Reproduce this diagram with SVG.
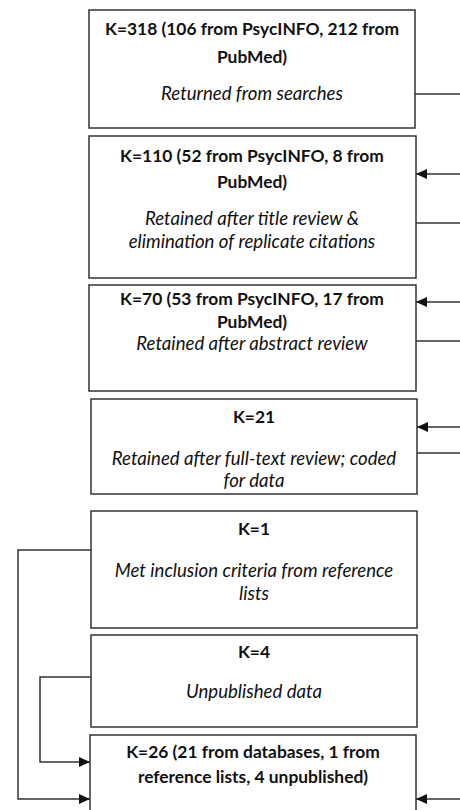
<svg xmlns="http://www.w3.org/2000/svg" width="460" height="810" viewBox="0 0 460 810">
<style>
.box{fill:#fff;stroke:#333;stroke-width:1.5}
.b{font-family:Lato,"Open Sans","Liberation Sans",sans-serif;font-weight:bold;font-size:17.4px;fill:#111;text-anchor:middle}
.i{font-family:Lato,"Open Sans","Liberation Sans",sans-serif;font-style:italic;font-size:18.6px;fill:#111;text-anchor:middle}
.c{fill:none;stroke:#333;stroke-width:1.5}
</style>
<defs>
<marker id="ah" markerWidth="11" markerHeight="10" refX="11" refY="5" orient="auto" markerUnits="userSpaceOnUse">
<path d="M0,0 L11,5 L0,10 Z" fill="#111"/>
</marker>
</defs>
<rect width="460" height="810" fill="#fff"/>
<g id="n1">
<rect class="box" x="89" y="10" width="326" height="118"/>
<text class="b" x="252" y="35">K=318 (106 from PsycINFO, 212 from</text>
<text class="b" x="252" y="63">PubMed)</text>
<text class="i" x="252" y="100">Returned from searches</text>
</g>
<g id="n2">
<rect class="box" x="89" y="136" width="327" height="142"/>
<text class="b" x="252" y="162">K=110 (52 from PsycINFO, 8 from</text>
<text class="b" x="252" y="188">PubMed)</text>
<text class="i" x="252" y="225">Retained after title review &amp;</text>
<text class="i" x="252" y="248">elimination of replicate citations</text>
</g>
<g id="n3">
<rect class="box" x="89" y="285" width="327" height="106"/>
<text class="b" x="252" y="305">K=70 (53 from PsycINFO, 17 from</text>
<text class="b" x="252" y="328">PubMed)</text>
<text class="i" x="252" y="350">Retained after abstract review</text>
</g>
<g id="n4">
<rect class="box" x="91" y="399" width="326" height="95"/>
<text class="b" x="254" y="423">K=21</text>
<text class="i" x="254" y="465">Retained after full-text review; coded</text>
<text class="i" x="254" y="487">for data</text>
</g>
<g id="n5">
<rect class="box" x="91" y="511" width="326" height="117"/>
<text class="b" x="254" y="535">K=1</text>
<text class="i" x="254" y="577">Met inclusion criteria from reference</text>
<text class="i" x="254" y="600">lists</text>
</g>
<g id="n6">
<rect class="box" x="91" y="635" width="326" height="92"/>
<text class="b" x="254" y="658">K=4</text>
<text class="i" x="254" y="698">Unpublished data</text>
</g>
<g id="n7">
<rect class="box" x="90" y="735" width="326" height="85"/>
<text class="b" x="253" y="758">K=26 (21 from databases, 1 from</text>
<text class="b" x="253" y="783">reference lists, 4 unpublished)</text>
</g>
<g id="connectors">
<line class="c" x1="415" y1="94" x2="460" y2="94"/>
<line class="c" x1="460" y1="174" x2="416" y2="174" marker-end="url(#ah)"/>
<line class="c" x1="416" y1="223" x2="460" y2="223"/>
<line class="c" x1="460" y1="302" x2="416" y2="302" marker-end="url(#ah)"/>
<line class="c" x1="416" y1="341" x2="460" y2="341"/>
<line class="c" x1="460" y1="427" x2="417" y2="427" marker-end="url(#ah)"/>
<line class="c" x1="417" y1="453" x2="460" y2="453"/>
<polyline class="c" points="91,550 18,550 18,799 90,799" marker-end="url(#ah)"/>
<polyline class="c" points="91,677 40,677 40,762 90,762" marker-end="url(#ah)"/>
<line class="c" x1="460" y1="799" x2="416" y2="799" marker-end="url(#ah)"/>
</g>
</svg>
